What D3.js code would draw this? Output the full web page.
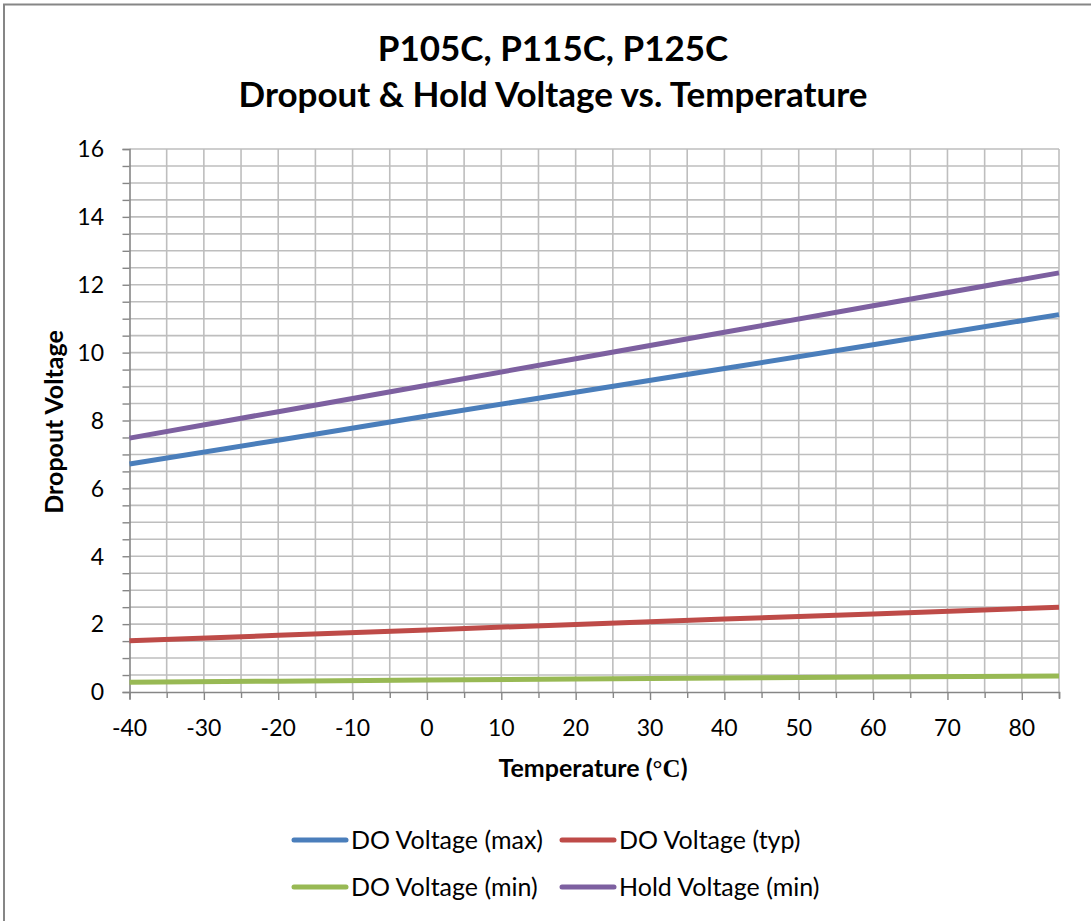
<!DOCTYPE html>
<html><head><meta charset="utf-8">
<script src="https://cdn.jsdelivr.net/npm/d3@7"></script>
<style>body{margin:0;background:#fff}svg{display:block}</style>
</head><body>
<script>
const temps = [-40, -20, 0, 20, 40, 60, 85];
const doMax = [6.72, 7.42, 8.13, 8.83, 9.53, 10.23, 11.12];
const doTyp = [1.51, 1.67, 1.83, 1.99, 2.15, 2.30, 2.50];
const doMin = [0.29, 0.32, 0.35, 0.38, 0.41, 0.44, 0.47];
const holdMin = [7.48, 8.26, 9.04, 9.82, 10.60, 11.38, 12.35];
const seriesNames = ["DO Voltage (max)", "DO Voltage (typ)", "DO Voltage (min)", "Hold Voltage (min)"];
const colors = ["#4A7EBB", "#BE4B48", "#98B954", "#7D60A0"];
const xTicks = [-40, -30, -20, -10, 0, 10, 20, 30, 40, 50, 60, 70, 80];
const yTicks = [0, 2, 4, 6, 8, 10, 12, 14, 16];
const titleLines = ["P105C, P115C, P125C", "Dropout & Hold Voltage vs. Temperature"];

const W = 1091, H = 921;
const svg = d3.select("body").append("svg").attr("width", W).attr("height", H);
const font = "Lato, 'Open Sans', sans-serif";

svg.append("rect").attr("x", 4).attr("y", 4.5).attr("width", W + 10).attr("height", H + 10)
  .attr("fill", "#fff").attr("stroke", "#868686").attr("stroke-width", 2);

const x = d3.scaleLinear().domain([-40, 85]).range([129.5, 1059]);
const y = d3.scaleLinear().domain([0, 16]).range([692, 149]);

// gridlines
const g = svg.append("g");
const minorX = d3.range(-40, 86, 5);
const minorY = d3.range(0.5, 16.01, 0.5);
g.selectAll("line.vx").data(minorX.filter(d => d > -40)).enter().append("line")
  .attr("x1", d => x(d)).attr("x2", d => x(d)).attr("y1", y(16)).attr("y2", y(0))
  .attr("stroke", "#BEBEBE").attr("stroke-width", 1.6);
g.selectAll("line.hy").data(minorY).enter().append("line")
  .attr("x1", x(-40)).attr("x2", x(85)).attr("y1", d => y(d)).attr("y2", d => y(d))
  .attr("stroke", "#BEBEBE").attr("stroke-width", 1.6);

// axes
const yAxis = d3.axisLeft(y).tickValues(d3.range(0, 16.01, 0.5)).tickSize(7).tickFormat(() => "");
const ya = svg.append("g").attr("transform", `translate(${x(-40)},0)`).call(yAxis);
ya.select(".domain").attr("stroke", "#868686").attr("stroke-width", 1.6);
ya.selectAll(".tick line").attr("stroke", "#868686").attr("stroke-width", 1.4);

const xAxis = d3.axisBottom(x).tickValues(minorX).tickSize(7).tickFormat(() => "");
const xa = svg.append("g").attr("transform", `translate(0,${y(0)})`).call(xAxis);
xa.select(".domain").attr("stroke", "#868686").attr("stroke-width", 1.6);
xa.selectAll(".tick line").attr("stroke", "#868686").attr("stroke-width", 1.4)
  .attr("y2", d => (d % 10 === 0 ? 8 : 6));

// tick labels
svg.append("g").selectAll("text").data(yTicks).enter().append("text")
  .attr("x", 104).attr("y", d => y(d)).attr("dy", "0.36em").attr("text-anchor", "end")
  .attr("font-family", font).attr("font-size", 23).text(d => d);
svg.append("g").selectAll("text").data(xTicks).enter().append("text")
  .attr("x", d => x(d)).attr("y", 736).attr("text-anchor", "middle")
  .attr("font-family", font).attr("font-size", 23).text(d => d);

// lines
const data = [doMax, doTyp, doMin, holdMin];
const line = d3.line().x((d, i) => x(temps[i])).y(d => y(d));
svg.append("g").selectAll("path").data(data).enter().append("path")
  .attr("d", d => line(d)).attr("fill", "none")
  .attr("stroke", (d, i) => colors[i]).attr("stroke-width", 5);

// titles
svg.append("g").selectAll("text").data(titleLines).enter().append("text")
  .attr("x", 553).attr("y", (d, i) => 61 + i * 46).attr("text-anchor", "middle")
  .attr("font-family", font).attr("font-weight", "bold").attr("font-size", 35).text(d => d);

const xt = svg.append("text").attr("x", 593).attr("y", 777).attr("text-anchor", "middle")
  .attr("font-family", font).attr("font-weight", "bold").attr("font-size", 25);
xt.append("tspan").text("Temperature (");
xt.append("tspan").attr("font-family", "'Liberation Serif', serif").text("\u00B0C");
xt.append("tspan").text(")");

svg.append("text").attr("transform", "translate(63,422) rotate(-90)").attr("text-anchor", "middle")
  .attr("font-family", font).attr("font-weight", "bold").attr("font-size", 25).text("Dropout Voltage");

// legend
const legPos = [[292, 840], [560, 840], [292, 887], [560, 887]];
const lg = svg.append("g").selectAll("g").data(seriesNames).enter().append("g")
  .attr("transform", (d, i) => `translate(${legPos[i][0]},${legPos[i][1]})`);
lg.append("line").attr("x1", 2).attr("x2", 54).attr("y1", 0).attr("y2", 0)
  .attr("stroke", (d, i) => colors[i]).attr("stroke-width", 5).attr("stroke-linecap", "round");
lg.append("text").attr("x", 59).attr("y", 0).attr("dy", "0.36em")
  .attr("font-family", font).attr("font-size", 25).text(d => d);
</script>
</body></html>
